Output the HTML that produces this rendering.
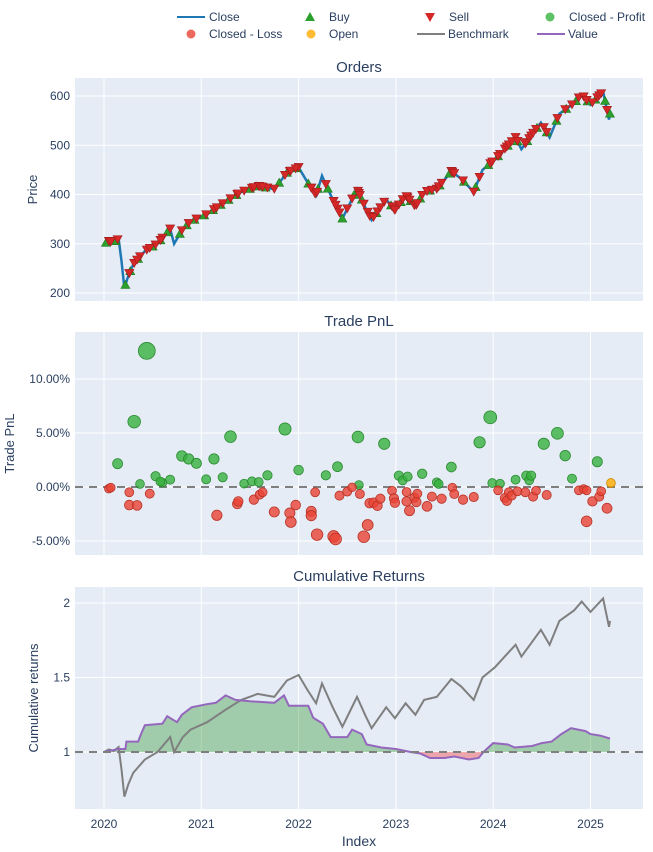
<!DOCTYPE html>
<html><head><meta charset="utf-8">
<style>
html,body{margin:0;padding:0;background:#fff;}
svg{display:block;font-family:"Liberation Sans",sans-serif;}
</style></head>
<body>
<svg id="chart" width="653" height="852" viewBox="0 0 653 852"></svg>
<script>
// ---------- DATA ----------
const closeDates = [2020.0,2020.05,2020.1,2020.15,2020.18,2020.21,2020.25,2020.3,2020.42,2020.55,2020.68,2020.72,2020.81,2020.89,2021.06,2021.24,2021.41,2021.58,2021.75,2021.88,2022.0,2022.09,2022.18,2022.24,2022.35,2022.45,2022.6,2022.69,2022.75,2022.9,2022.99,2023.1,2023.2,2023.29,2023.42,2023.57,2023.67,2023.8,2023.89,2024.02,2024.23,2024.29,2024.49,2024.58,2024.68,2024.83,2024.91,2025.0,2025.13,2025.19,2025.2];
const closeValues = [300,305,302,310,265,210,235,258,285,300,330,300,330,345,360,384,405,417,411,444,455,425,398,438,390,351,411,372,348,390,368,398,375,405,411,447,432,405,450,471,516,492,546,516,564,585,603,582,609,552,564];
const valueDates = [2020.0,2020.15,2020.22,2020.23,2020.35,2020.38,2020.42,2020.6,2020.65,2020.75,2020.8,2020.9,2021.05,2021.15,2021.25,2021.35,2021.5,2021.75,2021.85,2021.9,2022.1,2022.15,2022.25,2022.33,2022.5,2022.55,2022.65,2022.7,2022.85,2023.0,2023.15,2023.25,2023.35,2023.5,2023.6,2023.75,2023.85,2023.9,2024.0,2024.15,2024.22,2024.4,2024.5,2024.6,2024.7,2024.8,2024.95,2025.0,2025.1,2025.15,2025.2];
const valueValues = [1.0,1.02,1.02,1.07,1.07,1.12,1.18,1.19,1.24,1.2,1.25,1.3,1.32,1.33,1.38,1.35,1.34,1.33,1.38,1.31,1.31,1.23,1.19,1.1,1.1,1.15,1.12,1.05,1.03,1.02,1.0,0.99,0.96,0.96,0.97,0.95,0.96,1.0,1.06,1.05,1.03,1.04,1.06,1.07,1.12,1.16,1.14,1.12,1.11,1.10,1.09];
const profitDates = [2020.14,2020.44,2020.31,2020.37,2020.53,2020.6,2020.58,2020.68,2020.8,2020.87,2020.95,2021.05,2021.13,2021.22,2021.3,2021.44,2021.52,2021.59,2021.68,2021.86,2022.0,2022.28,2022.4,2022.61,2022.62,2022.88,2023.03,2023.07,2023.12,2023.27,2023.42,2023.44,2023.57,2023.86,2023.97,2023.99,2024.07,2024.23,2024.34,2024.37,2024.39,2024.52,2024.66,2024.74,2024.81,2025.07];
const profitPnl = [2.16,12.6,6.05,0.28,1.0,0.4,0.5,0.68,2.87,2.6,2.19,0.71,2.6,0.9,4.66,0.31,0.52,0.46,1.08,5.37,1.57,1.08,1.88,4.63,0.19,4.0,1.05,0.62,0.96,1.23,0.43,0.28,1.85,4.14,6.45,0.37,0.31,0.68,1.05,0.62,1.05,4.0,4.97,2.9,0.77,2.34];
const lossDates = [2020.05,2020.07,2020.26,2020.26,2020.34,2020.47,2021.16,2021.37,2021.38,2021.54,2021.6,2021.63,2021.75,2021.91,2021.92,2021.97,2022.17,2022.13,2022.13,2022.19,2022.36,2022.38,2022.42,2022.5,2022.55,2022.63,2022.67,2022.71,2022.73,2022.77,2022.81,2022.84,2022.96,2022.98,2022.99,2023.11,2023.11,2023.14,2023.19,2023.21,2023.22,2023.32,2023.37,2023.47,2023.58,2023.6,2023.69,2023.8,2024.05,2024.12,2024.14,2024.16,2024.19,2024.25,2024.33,2024.41,2024.44,2024.55,2024.88,2024.93,2024.96,2024.96,2025.02,2025.09,2025.11,2025.17];
const lossPnl = [-0.15,-0.06,-0.49,-1.67,-1.7,-0.62,-2.62,-1.57,-1.33,-1.17,-0.71,-0.49,-2.31,-2.41,-3.24,-1.67,-0.49,-2.25,-2.65,-4.41,-4.57,-4.81,-0.8,-0.43,-0.03,-0.65,-4.6,-3.52,-1.5,-1.45,-1.73,-1.08,-0.34,-1.05,-1.45,-0.46,-1.33,-2.19,-0.99,-1.39,-0.62,-1.79,-0.89,-1.08,-0.05,-0.65,-1.17,-0.93,-0.31,-1.02,-1.27,-0.49,-0.8,-0.4,-0.49,-0.89,-0.34,-0.74,-0.31,-0.19,-0.31,-3.18,-1.33,-0.89,-0.4,-1.97];
const openDates = [2025.21];
const openPnl = [0.37];
const buyDates = [2020.02,2020.12,2020.22,2020.27,2020.35,2020.5,2020.58,2020.65,2020.78,2020.85,2020.93,2021.03,2021.12,2021.2,2021.28,2021.36,2021.5,2021.57,2021.66,2021.8,2021.88,2021.98,2022.1,2022.2,2022.3,2022.45,2022.57,2022.65,2022.8,2022.95,2023.05,2023.15,2023.25,2023.35,2023.45,2023.55,2023.7,2023.82,2023.95,2024.05,2024.15,2024.25,2024.35,2024.45,2024.55,2024.65,2024.75,2024.85,2024.97,2025.05,2025.15,2025.2];
const priceTicks = [200,300,400,500,600];
const pnlTicks = [-5,0,5,10];
const pnlTickLabels = ["-5.00%","0.00%","5.00%","10.00%"];
const cumTicks = [1,1.5,2];
const cumTickLabels = ["1","1.5","2"];
const yearTicks = [2020,2021,2022,2023,2024,2025];
const benchBase = 300;

// ---------- GEOMETRY ----------
const NS="http://www.w3.org/2000/svg";
const svg=document.getElementById('chart');
const L=75,R=643;
const xS=y=>104+(y-2020)*97.3;
const P1={t:78,b:301,y:v=>96+(600-v)*0.4925};
const P2={t:332,b:555,y:v=>487-v*10.8};
const P3={t:587,b:809,y:v=>752-(v-1)*149};
function mk(tag,attrs,parent){const e=document.createElementNS(NS,tag);for(const k in attrs)e.setAttribute(k,attrs[k]);(parent||svg).appendChild(e);return e;}
function txt(s,x,y,opt,parent){const e=mk('text',Object.assign({x:x,y:y,'font-size':12,fill:'#2a3f5f'},opt||{}),parent);e.textContent=s;return e;}
function interp(xs,ys,x){if(x<=xs[0])return ys[0];for(let i=1;i<xs.length;i++){if(x<=xs[i]){const f=(x-xs[i-1])/(xs[i]-xs[i-1]);return ys[i-1]+f*(ys[i]-ys[i-1]);}}return ys[ys.length-1];}

function panel(P,name,title,ticks,labels,ytitle,ytx){
  const g=mk('g',{});
  
  
  const bg=mk('rect',{x:L,y:P.t,width:R-L,height:P.b-P.t,fill:'#e5ecf6'},g);
  
  
  yearTicks.forEach(yr=>{mk('line',{x1:xS(yr),x2:xS(yr),y1:P.t,y2:P.b,stroke:'#fff','stroke-width':1},g);});
  ticks.forEach((v,i)=>{const yy=P.y(v);mk('line',{x1:L,x2:R,y1:yy,y2:yy,stroke:'#fff','stroke-width':1},g);
    const t=txt(labels[i],L-5,yy+4,{'text-anchor':'end'},g);
    
    });
  const tt=txt(title,(L+R)/2,P.t-6,{'text-anchor':'middle','font-size':15},g);
  
  
  const cy=(P.t+P.b)/2;
  const yt=txt(ytitle,ytx,cy,{'text-anchor':'middle','font-size':13,transform:`rotate(-90 ${ytx} ${cy})`},g);
  
  
  return g;
}
function pathFrom(xs,ys,P){return xs.map((x,i)=>(i?'L':'M')+xS(x).toFixed(1)+','+P.y(ys[i]).toFixed(1)).join('');}

// ---------- PANEL 1: ORDERS ----------
const g1=panel(P1,'orders-panel','Orders',priceTicks,priceTicks.map(String),'Price',37);
const cl=mk('path',{d:pathFrom(closeDates,closeValues,P1),fill:'none',stroke:'#1f77b4','stroke-width':2.5},g1);


buyDates.forEach(d=>{const x=xS(d),y=P1.y(interp(closeDates,closeValues,d));
  const m=mk('path',{d:`M${x},${y-4.5}L${x+4.5},${y+3.5}L${x-4.5},${y+3.5}Z`,fill:'#2ca02c',stroke:'#1e7a1e','stroke-width':0.6},g1);
  
  });
profitDates.concat(lossDates).forEach(d=>{const x=xS(d),y=P1.y(interp(closeDates,closeValues,d));
  const m=mk('path',{d:`M${x-4.5},${y-4}L${x+4.5},${y-4}L${x},${y+4}Z`,fill:'#d62728',stroke:'#a01c1c','stroke-width':0.6},g1);
  
  });

// ---------- PANEL 2: TRADE PNL ----------
const g2=panel(P2,'trade-pnl-panel','Trade PnL',pnlTicks,pnlTickLabels,'Trade PnL',14);
mk('line',{x1:L,x2:R,y1:P2.y(0),y2:P2.y(0),stroke:'#7f7f7f','stroke-width':2,'stroke-dasharray':'8,6'},g2);
function dots(ds,ps,fill,stroke,name){ds.forEach((d,i)=>{const c=mk('circle',{cx:xS(d),cy:P2.y(ps[i]),r:(4.3+Math.abs(ps[i])*0.33).toFixed(2),fill:fill,'fill-opacity':0.8,stroke:stroke,'stroke-width':0.8},g2);
  
  });}
dots(profitDates,profitPnl,'#37b13f','#2a8a30','closed-profit-marker');
dots(lossDates,lossPnl,'#ea4335','#b83226','closed-loss-marker');
dots(openDates,openPnl,'#ffaa00','#cc8800','open-trade-marker');

// ---------- PANEL 3: CUMULATIVE RETURNS ----------
const g3=panel(P3,'cumulative-returns-panel','Cumulative Returns',cumTicks,cumTickLabels,'Cumulative returns',38);
const defs=mk('defs',{});
const base=P3.y(1);
const cpA=mk('clipPath',{id:'above'},defs);mk('rect',{x:L,y:P3.t,width:R-L,height:base-P3.t},cpA);
const cpB=mk('clipPath',{id:'below'},defs);mk('rect',{x:L,y:base,width:R-L,height:P3.b-base},cpB);
const areaD=pathFrom(valueDates,valueValues,P3)+`L${xS(valueDates[valueDates.length-1])},${base}L${xS(valueDates[0])},${base}Z`;
const fa=mk('path',{d:areaD,fill:'rgba(0,128,0,0.3)','clip-path':'url(#above)'},g3);


const fb=mk('path',{d:areaD,fill:'rgba(255,0,0,0.3)','clip-path':'url(#below)'},g3);


const benchValues=closeValues.map(v=>v/benchBase);
const bl=mk('path',{d:pathFrom(closeDates,benchValues,P3),fill:'none',stroke:'#7f7f7f','stroke-width':2},g3);


const vl=mk('path',{d:pathFrom(valueDates,valueValues,P3),fill:'none',stroke:'#9467bd','stroke-width':2},g3);


mk('line',{x1:L,x2:R,y1:base,y2:base,stroke:'#7f7f7f','stroke-width':2,'stroke-dasharray':'8,6'},g3);
yearTicks.forEach(yr=>{const t=txt(String(yr),xS(yr),P3.b+19,{'text-anchor':'middle'});
  
  });
const xt=txt('Index',(L+R)/2,846,{'text-anchor':'middle','font-size':14});



// ---------- LEGEND ----------
const lg=mk('g',{});


function legItem(kind,color,label,sx,tx,y,name){const g=mk('g',{},lg);
  
  
  if(kind==='line')mk('line',{x1:sx,x2:sx+28,y1:y,y2:y,stroke:color,'stroke-width':2},g);
  else if(kind==='up')mk('path',{d:`M${sx},${y-5}L${sx+5},${y+4}L${sx-5},${y+4}Z`,fill:color},g);
  else if(kind==='down')mk('path',{d:`M${sx-5},${y-4}L${sx+5},${y-4}L${sx},${y+5}Z`,fill:color},g);
  else mk('circle',{cx:sx,cy:y,r:4.5,fill:color,'fill-opacity':0.8},g);
  txt(label,tx,y+4,{},g);}
legItem('line','#1f77b4','Close',177,209,17,'legend-close');
legItem('up','#2ca02c','Buy',310,329,17,'legend-buy');
legItem('down','#d62728','Sell',430,449,17,'legend-sell');
legItem('dot','#37b13f','Closed - Profit',550,569,17,'legend-closed-profit');
legItem('dot','#ea4335','Closed - Loss',191,209,34,'legend-closed-loss');
legItem('dot','#ffaa00','Open',311,329,34,'legend-open');
legItem('line','#7f7f7f','Benchmark',417,448,34,'legend-benchmark');
legItem('line','#9467bd','Value',537,568,34,'legend-value');
</script>
</body></html>
